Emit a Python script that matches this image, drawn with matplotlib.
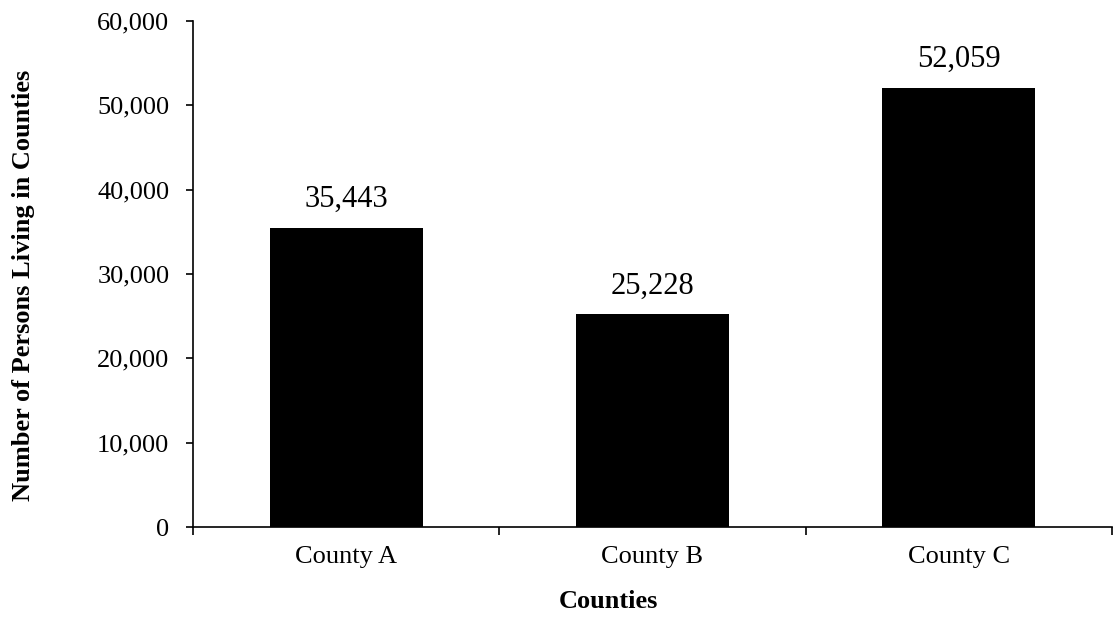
import matplotlib.pyplot as plt
from matplotlib.ticker import FuncFormatter, FixedLocator

plt.rcParams["font.family"] = ["Liberation Serif", "DejaVu Serif"]

counties = ["County A", "County B", "County C"]
persons = [35443, 25228, 52059]
y_ticks = [0, 10000, 20000, 30000, 40000, 50000, 60000]

fig = plt.figure(figsize=(11.18, 6.24), dpi=100)
ax = fig.add_axes([0.1726, 0.1554, 0.822, 0.811])

x = list(range(len(counties)))
bars = ax.bar(x, persons, width=0.5, color="black")

for rect, val in zip(bars, persons):
    ax.annotate(f"{val:,}", (rect.get_x() + rect.get_width() / 2, rect.get_height()),
                xytext=(0, 10), textcoords="offset points",
                ha="center", va="bottom", fontsize=22)

ax.set_xlim(-0.5, len(counties) - 0.5)
ax.set_ylim(0, 60000)
ax.set_yticks(y_ticks)
ax.yaxis.set_major_formatter(FuncFormatter(lambda v, _: f"{int(v):,}"))

# category labels without ticks, tick marks drawn between categories
ax.set_xticks(x)
ax.set_xticklabels(counties, fontsize=19)
ax.tick_params(axis="x", which="major", length=0, pad=14)
ax.xaxis.set_minor_locator(FixedLocator([i - 0.5 for i in range(len(counties) + 1)]))
ax.tick_params(axis="x", which="minor", direction="out", length=6, width=1.2)
ax.tick_params(axis="y", direction="out", length=5, width=1.2, labelsize=19, pad=12)

for side in ["top", "right"]:
    ax.spines[side].set_visible(False)
for side in ["left", "bottom"]:
    ax.spines[side].set_linewidth(1.2)

fig.text(608 / 1118, 1 - 602 / 624, "Counties", fontsize=19, fontweight="bold",
         ha="center", va="center")
fig.text(24 / 1118, 1 - 285 / 624, "Number of Persons Living in Counties", fontsize=19,
         fontweight="bold", rotation=90, ha="center", va="center")

fig.savefig("out.png", dpi=100)
